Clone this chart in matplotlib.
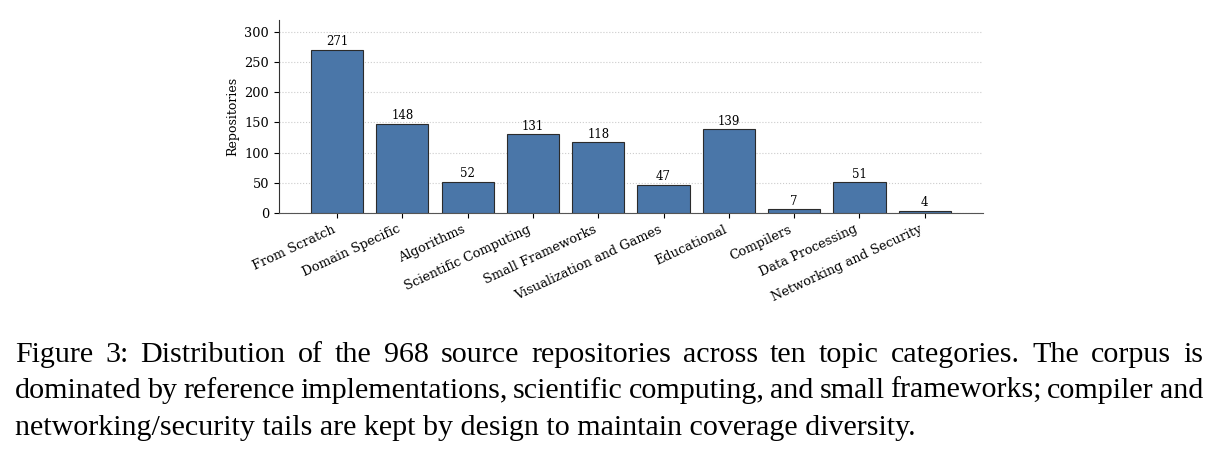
import matplotlib
matplotlib.use('Agg')
from matplotlib import pyplot as plt

categories = ['From Scratch', 'Domain Specific', 'Algorithms', 'Scientific Computing',
              'Small Frameworks', 'Visualization and Games', 'Educational', 'Compilers',
              'Data Processing', 'Networking and Security']
counts = [271, 148, 52, 131, 118, 47, 139, 7, 51, 4]
yticks = [0, 50, 100, 150, 200, 250, 300]

caption = [
    'Figure 3:  Distribution of the 968 source repositories across ten topic categories.  The corpus is',
    'dominated by reference implementations, scientific computing, and small frameworks; compiler and',
    'networking/security tails are kept by design to maintain coverage diversity.',
]

plt.rcParams['font.family'] = 'DejaVu Serif'

fig = plt.figure(figsize=(12.18, 4.57), dpi=100)
ax = fig.add_axes([0.229, 0.534, 0.578, 0.422])

x = range(len(categories))
bars = ax.bar(x, counts, width=0.8, color='#4a76a8', edgecolor='#2b2b2b', linewidth=0.8, zorder=3)
for b, v in zip(bars, counts):
    ax.text(b.get_x() + b.get_width() / 2, v + 2, str(v), ha='center', va='bottom', fontsize=8.5)

ax.set_ylim(0, max(counts) * 1.18)
ax.set_yticks(yticks)
ax.set_xticks(list(x))
ax.set_xticklabels(categories, rotation=25, ha='right', fontsize=9.3)
ax.tick_params(axis='y', labelsize=9.3)
ax.set_ylabel('Repositories', fontsize=9)
ax.grid(axis='y', linestyle=':', color='#cccccc', linewidth=0.8, zorder=0)
ax.spines['top'].set_visible(False)
ax.spines['right'].set_visible(False)
ax.spines['left'].set_color('#333333')
ax.spines['bottom'].set_color('#555555')

# caption, justified word by word
renderer = fig.canvas.get_renderer()
x0, x1 = 15 / 1218, 1203 / 1218
ys = [1 - 355 / 457, 1 - 391 / 457, 1 - 428 / 457]
fs = 21.6
for i, line in enumerate(caption):
    words = line.split()
    if i == len(caption) - 1:
        fig.text(x0, ys[i], line, fontsize=fs, family='Liberation Serif', va='center', ha='left')
        continue
    tmp = [fig.text(0, 0, w, fontsize=fs, family='Liberation Serif') for w in words]
    widths = [t.get_window_extent(renderer).width / fig.bbox.width for t in tmp]
    for t in tmp:
        t.remove()
    gap = (x1 - x0 - sum(widths)) / (len(words) - 1)
    pos = x0
    for w, wd in zip(words, widths):
        fig.text(pos, ys[i], w, fontsize=fs, family='Liberation Serif', va='center', ha='left')
        pos += wd + gap

fig.savefig('out.png', dpi=100)
